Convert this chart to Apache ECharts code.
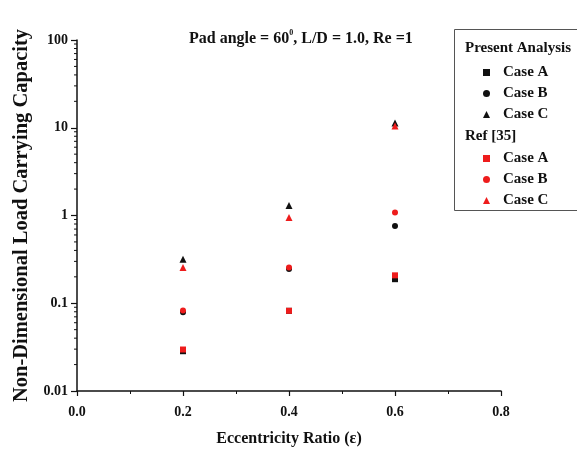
<!DOCTYPE html>
<html>
<head>
<meta charset="utf-8">
<script src="https://cdn.jsdelivr.net/npm/echarts@6/dist/echarts.min.js"></script>
<style>html,body{margin:0;padding:0;background:#fff;}#c{width:577px;height:452px;}</style>
</head>
<body>
<div id="c"></div>
<script>
const xVals = [0.2, 0.4, 0.6];
const presentA = [0.0284, 0.082, 0.188];
const presentB = [0.079, 0.245, 0.76];
const presentC = [0.317, 1.3, 11.3];
const refA = [0.0297, 0.082, 0.208];
const refB = [0.0826, 0.255, 1.08];
const refC = [0.255, 0.95, 10.5];
const xTicks = [0.0, 0.2, 0.4, 0.6, 0.8];
const yMinorTicks = [0.02,0.03,0.04,0.05,0.06,0.07,0.08,0.09,0.2,0.3,0.4,0.5,0.6,0.7,0.8,0.9,2,3,4,5,6,7,8,9,20,30,40,50,60,70,80,90];

const FONT = '"Liberation Serif", "Times New Roman", serif';
const BLACK = '#111111';
const RED = '#ee1c1c';

function pts(ys){ return xVals.map((x,i)=>[x, ys[i]]); }
const labelMap = {pA:'Case A', pB:'Case B', pC:'Case C', rA:'Case A', rB:'Case B', rC:'Case C'};

function sc(name, data, symbol, size, color){
  return {name, type:'scatter', data:pts(data), symbol, symbolSize:size,
    itemStyle:{color, opacity:1}, z: color===RED?4:3, animation:false};
}

const chart = echarts.init(document.getElementById('c'));
chart.setOption({
  backgroundColor:'#fff',
  animation:false,
  title:{
    text:'{a|Pad angle = 60}{s|0}{a|, L/D = 1.0, Re =1}',
    left:184, top:24,
    textStyle:{rich:{
      a:{fontFamily:FONT, fontWeight:'bold', fontSize:16, color:BLACK, lineHeight:20},
      s:{fontFamily:FONT, fontWeight:'bold', fontSize:8, color:BLACK, verticalAlign:'top', lineHeight:12}
    }}
  },
  grid:{left:77, right:76, top:40, bottom:61},
  xAxis:{
    type:'value', min:0, max:0.8, interval:0.2,
    name:'Eccentricity Ratio (\u03b5)', nameLocation:'middle', nameGap:40,
    nameTextStyle:{fontFamily:FONT, fontWeight:'bold', fontSize:16, color:BLACK},
    axisLine:{show:true, lineStyle:{color:BLACK, width:1.5}},
    axisTick:{show:true, inside:false, length:5, lineStyle:{color:BLACK, width:1.2}},
    minorTick:{show:true, splitNumber:2, length:3, lineStyle:{color:BLACK, width:1}},
    splitLine:{show:false},
    axisLabel:{margin:14, fontFamily:FONT, fontWeight:'bold', fontSize:14, color:BLACK,
      formatter:v=>v.toFixed(1)}
  },
  yAxis:{
    type:'log', logBase:10, min:0.01, max:100,
    name:'Non-Dimensional Load Carrying Capacity', nameLocation:'middle', nameGap:40,
    nameTextStyle:{fontFamily:FONT, fontWeight:'bold', fontSize:20.5, color:BLACK},
    axisLine:{show:true, lineStyle:{color:BLACK, width:1.5}},
    axisTick:{show:true, inside:false, length:6, lineStyle:{color:BLACK, width:1.2}},
    splitLine:{show:false},
    axisLabel:{margin:9, fontFamily:FONT, fontWeight:'bold', fontSize:14, color:BLACK,
      formatter:v=>String(v)}
  },
  legend:[
    {data:['pA','pB','pC'], orient:'vertical', left:478, top:60, itemWidth:7, itemHeight:7, itemGap:6,
     formatter:n=>labelMap[n],
     textStyle:{fontFamily:FONT, fontWeight:'bold', fontSize:15, color:BLACK, lineHeight:15, padding:[0,0,0,8]}},
    {data:['rA','rB','rC'], orient:'vertical', left:478, top:146, itemWidth:7, itemHeight:7, itemGap:6,
     formatter:n=>labelMap[n],
     textStyle:{fontFamily:FONT, fontWeight:'bold', fontSize:15, color:BLACK, lineHeight:15, padding:[0,0,0,8]}}
  ],
  graphic:[
    {type:'rect', shape:{x:454.5, y:29.5, width:140, height:181}, style:{fill:'none', stroke:'#555', lineWidth:1}, z:1},
    {type:'text', left:465, top:41, style:{text:'Present Analysis', font:'bold 15px '+FONT, fill:BLACK}},
    {type:'text', left:465, top:129, style:{text:'Ref [35]', font:'bold 15px '+FONT, fill:BLACK}}
  ],
  series:[
    sc('pA', presentA, 'rect', 6, BLACK),
    sc('pB', presentB, 'circle', 6, BLACK),
    sc('pC', presentC, 'triangle', 7, BLACK),
    sc('rA', refA, 'rect', 6, RED),
    sc('rB', refB, 'circle', 6, RED),
    sc('rC', refC, 'triangle', 7, RED),
    {
      type:'custom', silent:true, animation:false,
      data: yMinorTicks.map(v=>[0, v]),
      renderItem:function(params, api){
        const p = api.coord([0, api.value(1)]);
        return {type:'line', shape:{x1:p[0], y1:p[1], x2:p[0]-3, y2:p[1]},
          style:{stroke:BLACK, lineWidth:1}};
      }
    }
  ]
});
</script>
</body>
</html>
